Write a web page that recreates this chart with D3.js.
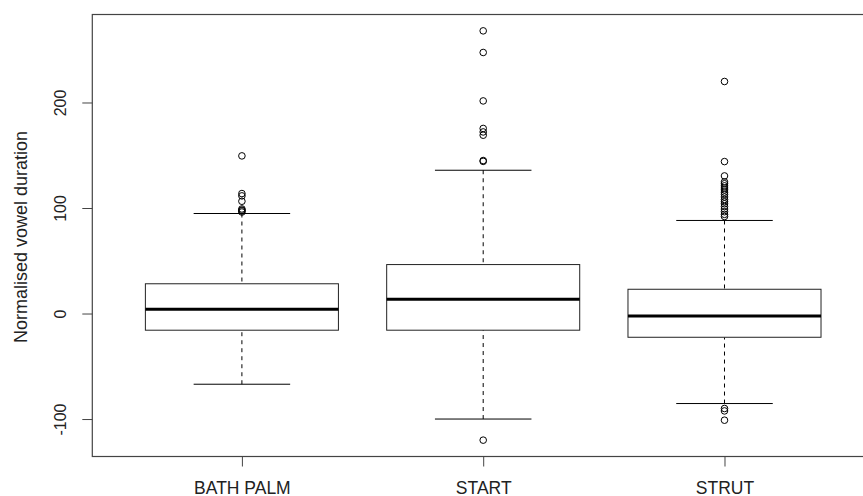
<!DOCTYPE html>
<html>
<head>
<meta charset="utf-8">
<script src="https://cdn.jsdelivr.net/npm/d3@7"></script>
<style>
  html, body { margin: 0; padding: 0; background: #fff; }
  svg { display: block; font-family: "Liberation Sans", Arial, sans-serif; }
</style>
</head>
<body>
<svg id="chart" width="863" height="496"></svg>
<script>
// ---- Data ----
const categories = ["BATH PALM", "START", "STRUT"];
const lowerWhisker = [-67, -100, -85.3];
const q1 = [-15.8, -15.8, -22.5];
const medians = [4.1, 13.6, -2.3];
const q3 = [28.2, 46.4, 23.0];
const upperWhisker = [94.8, 135.8, 88.2];
const outliersBathPalm = [149.4, 113.7, 111.5, 106.4, 99.1, 98.0, 97.3, 96.2];
const outliersStart = [267.9, 247.4, 201.5, 175.4, 172.1, 169.0, 145.0, 144.2, -120.0];
const outliersStrut = [219.9, 144.0, 130.4, 124.8, 123.0, 121.0, 119.0, 117.2, 115.0,
                       113.0, 110.5, 108.0, 106.0, 104.0, 101.5, 99.0, 96.5, 94.0, 92.0,
                       -90.0, -92.3, -101.1];
const yTicks = [-100, 0, 100, 200];
const yTitle = "Normalised vowel duration";

const outliers = [outliersBathPalm, outliersStart, outliersStrut];

// ---- Layout ----
const svg = d3.select("#chart");
const pLeft = 92.3, pRight = 874.1, pTop = 14.5, pBottom = 456.5;

const x = d3.scaleLinear().domain([0.38, 3.62]).range([pLeft, pRight]);
const y = d3.scaleLinear().domain([-135.5, 283.4]).range([pBottom, pTop]);
const boxW = x(0.8) - x(0);
const stapleW = boxW / 2;

const data = categories.map((c, i) => ({
  cat: c, pos: i + 1,
  lw: lowerWhisker[i], q1: q1[i], med: medians[i], q3: q3[i], uw: upperWhisker[i],
  out: outliers[i]
}));

const g = svg.append("g");
const groups = g.selectAll("g.box").data(data).join("g").attr("class", "box");

// whiskers (dashed)
groups.append("line")
  .attr("x1", d => x(d.pos)).attr("x2", d => x(d.pos))
  .attr("y1", d => y(d.uw)).attr("y2", d => y(d.q3))
  .attr("stroke", "#000").attr("stroke-width", 1).attr("stroke-dasharray", "4,4");
groups.append("line")
  .attr("x1", d => x(d.pos)).attr("x2", d => x(d.pos))
  .attr("y1", d => y(d.lw)).attr("y2", d => y(d.q1))
  .attr("stroke", "#000").attr("stroke-width", 1).attr("stroke-dasharray", "4,4");
// staples
groups.append("line")
  .attr("x1", d => x(d.pos) - stapleW / 2).attr("x2", d => x(d.pos) + stapleW / 2)
  .attr("y1", d => y(d.uw)).attr("y2", d => y(d.uw))
  .attr("stroke", "#000").attr("stroke-width", 1);
groups.append("line")
  .attr("x1", d => x(d.pos) - stapleW / 2).attr("x2", d => x(d.pos) + stapleW / 2)
  .attr("y1", d => y(d.lw)).attr("y2", d => y(d.lw))
  .attr("stroke", "#000").attr("stroke-width", 1);
// box
groups.append("rect")
  .attr("x", d => x(d.pos) - boxW / 2).attr("width", boxW)
  .attr("y", d => y(d.q3)).attr("height", d => y(d.q1) - y(d.q3))
  .attr("fill", "#fff").attr("stroke", "#222").attr("stroke-width", 1);
// median
groups.append("line")
  .attr("x1", d => x(d.pos) - boxW / 2).attr("x2", d => x(d.pos) + boxW / 2)
  .attr("y1", d => y(d.med)).attr("y2", d => y(d.med))
  .attr("stroke", "#000").attr("stroke-width", 3);
// outliers
groups.each(function(d) {
  d3.select(this).selectAll("circle").data(d.out).join("circle")
    .attr("cx", x(d.pos)).attr("cy", v => y(v)).attr("r", 3.3)
    .attr("fill", "none").attr("stroke", "#000").attr("stroke-width", 1);
});

// frame
svg.append("rect")
  .attr("x", pLeft).attr("y", pTop).attr("width", pRight - pLeft).attr("height", pBottom - pTop)
  .attr("fill", "none").attr("stroke", "#444").attr("stroke-width", 1.2);

// y axis
const yAxis = svg.append("g").attr("transform", `translate(${pLeft},0)`)
  .call(d3.axisLeft(y).tickValues(yTicks).tickSize(10).tickFormat(d => String(d)));
yAxis.select(".domain").remove();
yAxis.selectAll(".tick line").attr("stroke", "#444");
yAxis.selectAll(".tick text")
  .attr("transform", "rotate(-90)")
  .attr("x", 0).attr("y", -26.3).attr("dy", 0)
  .attr("text-anchor", "middle")
  .attr("fill", "#222")
  .style("font-size", "16px").style("font-family", "'Liberation Sans', Arial, sans-serif");

// x axis
const xAxis = svg.append("g").attr("transform", `translate(0,${pBottom})`)
  .call(d3.axisBottom(x).tickValues(data.map(d => d.pos)).tickSize(10)
    .tickFormat((v, i) => categories[i]));
xAxis.select(".domain").remove();
xAxis.selectAll(".tick line").attr("stroke", "#444");
xAxis.selectAll(".tick text")
  .attr("y", 37).attr("dy", 0)
  .attr("fill", "#222")
  .style("font-size", "17.5px").style("font-family", "'Liberation Sans', Arial, sans-serif");

// y title
svg.append("text")
  .attr("transform", `translate(26.7,${(pTop + pBottom) / 2 + 1.5}) rotate(-90)`)
  .attr("text-anchor", "middle")
  .attr("fill", "#222")
  .style("font-size", "18px")
  .text(yTitle);
</script>
</body>
</html>
